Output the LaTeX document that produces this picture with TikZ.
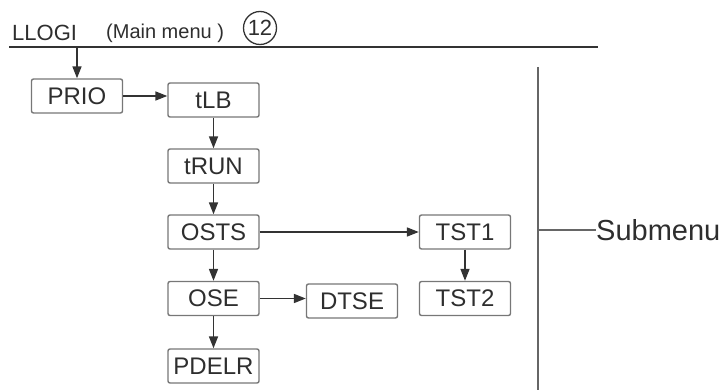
\documentclass[tikz,border=0pt]{standalone}
\usepackage{fontspec}
\setmainfont{Liberation Sans}
\usetikzlibrary{arrows.meta}
\definecolor{txt}{HTML}{2E2E2E}
\definecolor{boxc}{HTML}{777777}
\definecolor{linec}{HTML}{333333}
\definecolor{vline}{HTML}{666666}
\tikzset{
  menubox/.style={draw=boxc, line width=1.4pt, rounded corners=2pt, minimum width=91pt, minimum height=34pt, inner sep=0pt, text=txt, font=\fontsize{24}{24}\selectfont},
  arr/.style={draw=linec, line width=1.6pt, -{Triangle[length=12pt,width=9pt]}},
  plain/.style={draw=linec, line width=1.6pt},
}
\begin{document}
\begin{tikzpicture}[x=1pt,y=-1pt]
\useasboundingbox (0,0) rectangle (728,390);
% title
\node[anchor=base west, inner sep=0pt, text=txt, font=\fontsize{22}{22}\selectfont] (llogi) at (12,41) {LLOGI};
\node[anchor=base west, inner sep=0pt, text=txt, font=\fontsize{20}{20}\selectfont] (mainmenu) at (106,38.5) {(Main menu )};
\node[circle, draw=linec, line width=1.3pt, minimum size=33pt, inner sep=0pt, text=txt, font=\fontsize{22}{22}\selectfont] (twelve) at (260,28) {12};
\coordinate (ls) at (9,47);
\coordinate (le) at (598,47);
\draw[plain] (ls) -- (le);
\coordinate (a0) at (77,47);
% boxes
\node[menubox] (prio) at (77,96) {PRIO};
\node[menubox] (tlb) at (213.5,100) {tLB};
\node[menubox] (trun) at (213.5,166) {tRUN};
\node[menubox] (osts) at (213.5,232) {OSTS};
\node[menubox] (ose) at (213.5,298.5) {OSE};
\node[menubox] (pdelr) at (213.5,366) {PDELR};
\node[menubox] (tst1) at (465,232) {TST1};
\node[menubox] (tst2) at (465,298.5) {TST2};
\node[menubox] (dtse) at (352,301) {DTSE};
% arrows
\draw[arr] (a0) -- (prio.north);
\draw[arr] (prio.east) -- (tlb.west |- prio.east);
\draw[arr] (tlb) -- (trun);
\draw[arr] (trun) -- (osts);
\draw[arr] (osts) -- (ose);
\draw[arr] (ose) -- (pdelr);
\draw[arr] (osts) -- (tst1);
\draw[arr] (tst1) -- (tst2);
\draw[arr] (ose.east) -- (dtse.west |- ose.east);
% submenu bracket
\coordinate (v1) at (538,67);
\coordinate (v2) at (538,390);
\coordinate (vm) at (538,230);
\draw[draw=vline, line width=1.7pt] (v1) -- (v2);
\node[anchor=west, inner sep=0pt, text=txt, font=\fontsize{29}{29}\selectfont] (sub) at (596,230) {Submenu};
\draw[draw=vline, line width=1.7pt] (vm) -- (sub.west);
\end{tikzpicture}
\end{document}
